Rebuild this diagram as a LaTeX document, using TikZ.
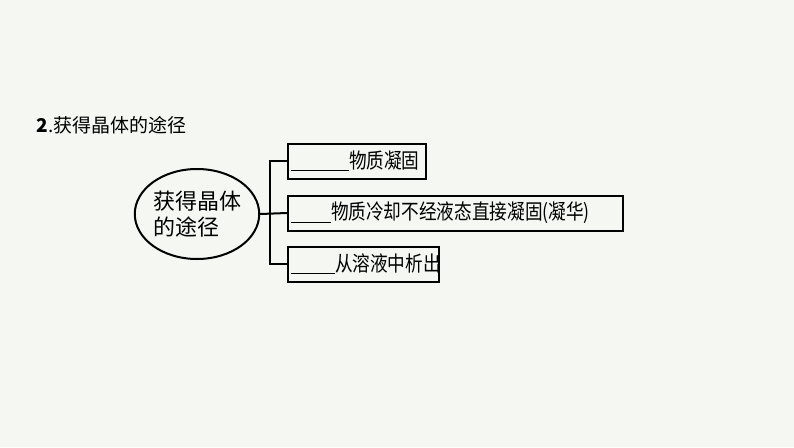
\documentclass[tikz,border=0pt]{standalone}
\usepackage{fontspec}
\usepackage{graphicx}
\newfontfamily\cjk{Noto Sans CJK SC}
\usetikzlibrary{shapes.geometric}
\definecolor{bg}{HTML}{F5F7F3}
\newcommand{\sq}[1]{\scalebox{0.84}[1]{#1}}
\begin{document}
\begin{tikzpicture}[x=1pt,y=-1pt,
  box/.style={draw,line width=2pt,anchor=west,inner sep=0pt,minimum height=35pt,font=\cjk\fontsize{21}{21}\selectfont},
  lnk/.style={line width=2pt}]
\fill[bg] (0,0) rectangle (794,447);
\useasboundingbox (0,0) rectangle (794,447);
\node[anchor=west,font=\cjk\fontsize{19}{19}\selectfont] (t) at (33,125) {\textbf{2}.获得晶体的途径};
\node[draw,ellipse,line width=2pt,minimum width=120pt,minimum height=90pt,inner sep=0pt,align=left,font=\cjk\fontsize{22}{26}\selectfont] (e) at (197,214) {获得晶体\\的途径};
\node[box,minimum width=138pt] (b1) at (287,161) {\makebox[138pt][l]{\hspace{3pt}\rule[-3pt]{58pt}{1pt}\sq{物质凝固}}};
\node[box,minimum width=335pt] (b2) at (287,213) {\makebox[335pt][l]{\hspace{3pt}\rule[-3pt]{40pt}{1pt}\sq{物质冷却不经液态直接凝固(凝华)}}};
\node[box,minimum width=151pt] (b3) at (287,264) {\makebox[151pt][l]{\hspace{3pt}\rule[-3pt]{44pt}{1pt}\sq{从溶液中析出}}};
\coordinate (j) at (270,214);
\draw[lnk] (e.east) -- (b2.west);
\draw[lnk] (b1.west) -| (j) |- (b3.west);
\end{tikzpicture}
\end{document}
